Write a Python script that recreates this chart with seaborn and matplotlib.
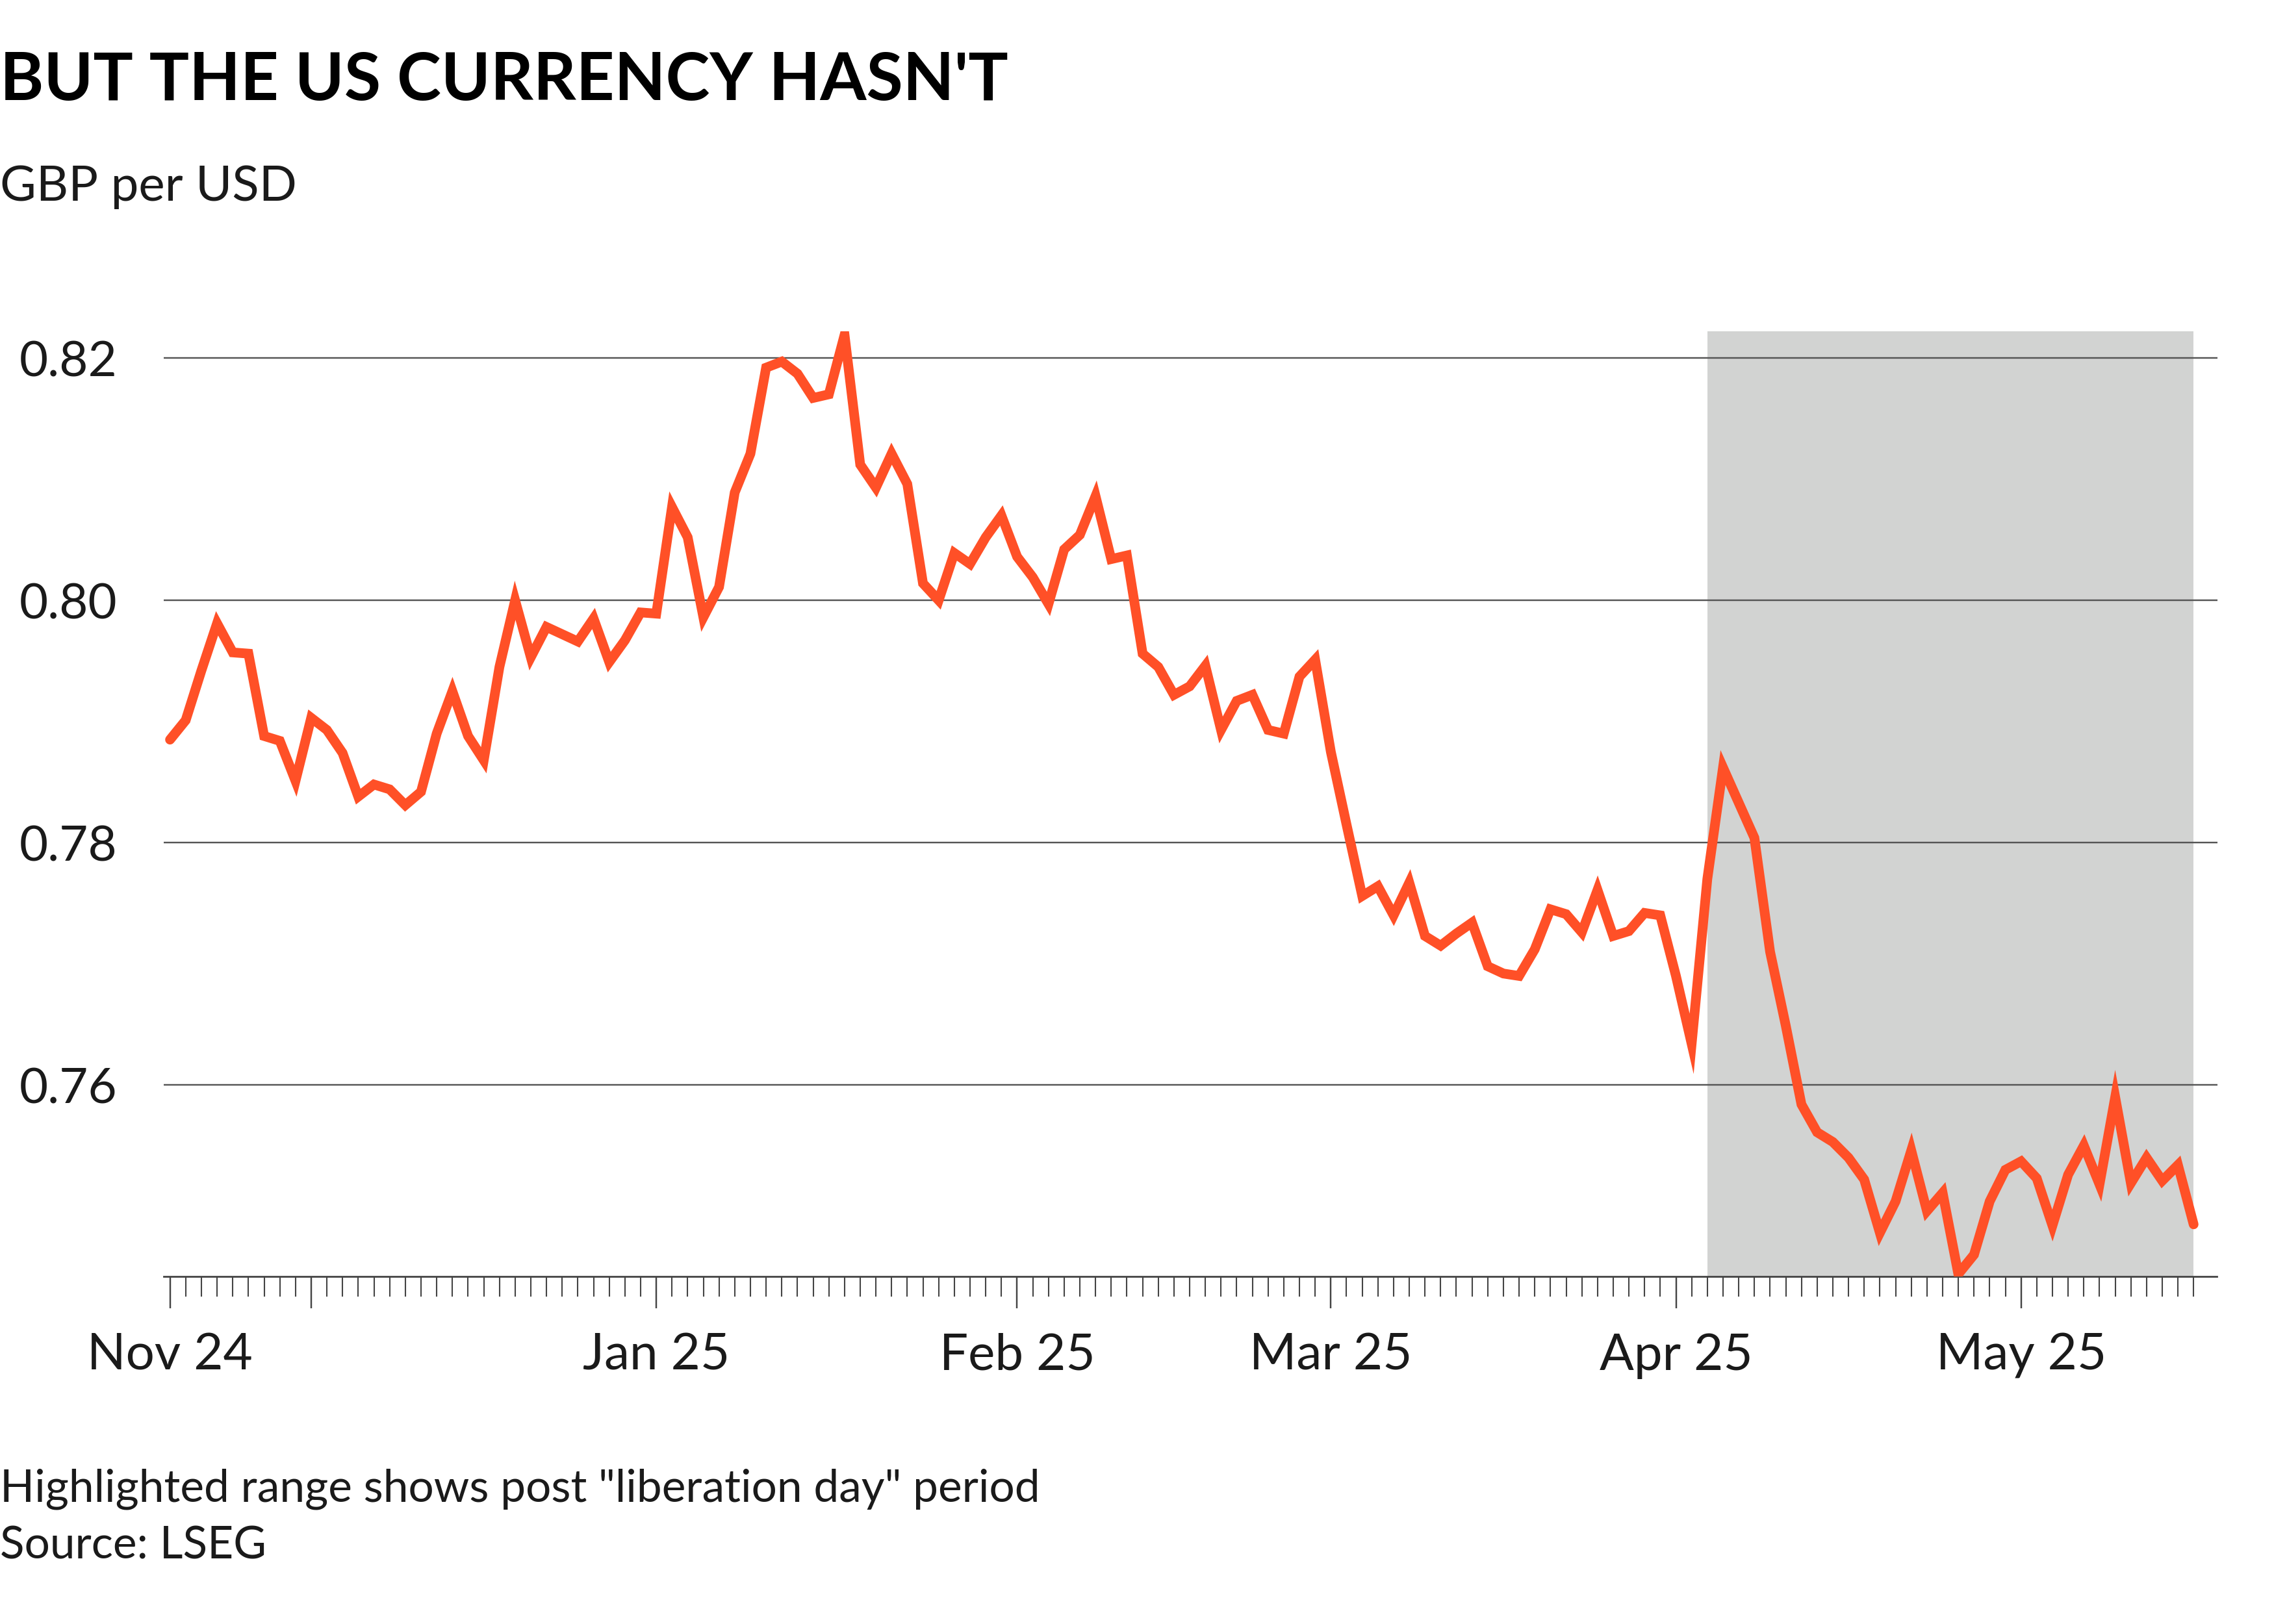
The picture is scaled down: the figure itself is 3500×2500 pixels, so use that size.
import numpy as np
import pandas as pd
import matplotlib
matplotlib.use("Agg")
import matplotlib.pyplot as plt
import seaborn as sns

# GBP per USD, one value per trading day
rate = [
    0.7885, 0.7901, 0.7942, 0.7981, 0.7957, 0.7956, 0.7888, 0.7884, 0.7851, 0.7903,
    0.7893, 0.7874, 0.7838, 0.7848, 0.7844, 0.7831, 0.7842, 0.7890, 0.7925, 0.7888,
    0.7868, 0.7945, 0.8000, 0.7953, 0.7978, 0.7972, 0.7966, 0.7985, 0.7949, 0.7967,
    0.7990, 0.7989, 0.8077, 0.8052, 0.7986, 0.8011, 0.8089, 0.8121, 0.8192, 0.8197,
    0.8187, 0.8167, 0.8170, 0.8219, 0.8112, 0.8093, 0.8121, 0.8096, 0.8014, 0.8000,
    0.8039, 0.8030, 0.8052, 0.8070, 0.8036, 0.8019, 0.7997, 0.8042, 0.8054, 0.8086,
    0.8034, 0.8037, 0.7956, 0.7945, 0.7922, 0.7929, 0.7946, 0.7893, 0.7917, 0.7922,
    0.7893, 0.7890, 0.7937, 0.7951, 0.7875, 0.7815, 0.7756, 0.7764, 0.7740, 0.7767,
    0.7723, 0.7715, 0.7725, 0.7734, 0.7698, 0.7692, 0.7690, 0.7712, 0.7745, 0.7741,
    0.7726, 0.7761, 0.7723, 0.7727, 0.7742, 0.7740, 0.7690, 0.7634, 0.7770, 0.7862,
    0.7833, 0.7804, 0.7710, 0.7649, 0.7584, 0.7561, 0.7553, 0.7540, 0.7522, 0.7478,
    0.7504, 0.7546, 0.7496, 0.7511, 0.7444, 0.7460, 0.7504, 0.7530, 0.7537, 0.7523,
    0.7484, 0.7526, 0.7550, 0.7518, 0.7590, 0.7519, 0.7540, 0.7521, 0.7534, 0.7485,
]
day = list(range(len(rate)))

# month starts (trading-day index) and their labels; Dec is unlabelled
month_pos = [0, 9, 31, 54, 74, 96, 118]
month_lab = ["Nov 24", "", "Jan 25", "Feb 25", "Mar 25", "Apr 25", "May 25"]

y_ticks = [0.76, 0.78, 0.80, 0.82]
shade_start, shade_end = 98, 129

df = pd.DataFrame({"day": day, "rate": rate})

sns.set_theme(style="white")
plt.rcParams["font.family"] = ["Lato", "DejaVu Sans"]

fig = plt.figure(figsize=(14, 10), dpi=250)
ax = fig.add_axes([0.072, 0.214, 0.903, 0.582])

ax.axvspan(shade_start, shade_end, ymin=0, ymax=1, color="#d2d3d2", lw=0, zorder=0)
for v in y_ticks:
    ax.axhline(v, color="#555555", lw=0.7, zorder=1)

sns.lineplot(data=df, x="day", y="rate", color="#ff5027", lw=4.3,
             ax=ax, zorder=3, solid_joinstyle="miter")

ax.set_xlim(-0.4, 130.5)
ax.set_ylim(0.7442, 0.8222)
ax.set_xlabel("")
ax.set_ylabel("")

ax.set_yticks(y_ticks)
ax.set_yticklabels([f"{v:.2f}" for v in y_ticks], fontsize=22, color="#1a1a1a")
for lab in ax.get_yticklabels():
    lab.set_horizontalalignment("left")
ax.tick_params(axis="y", length=0, pad=64)

ax.set_xticks(day, minor=True)
ax.set_xticks(month_pos)
ax.set_xticklabels(month_lab, fontsize=22.5, color="#1a1a1a")
ax.tick_params(axis="x", which="minor", direction="out", length=9, width=0.6,
               color="#444444", bottom=True)
ax.tick_params(axis="x", which="major", direction="out", length=14, width=0.7,
               color="#444444", pad=11, bottom=True)

for s in ["top", "right", "left"]:
    ax.spines[s].set_visible(False)
ax.spines["bottom"].set_color("#444444")
ax.spines["bottom"].set_linewidth(0.8)

fig.text(0.0, 0.95, "BUT THE US CURRENCY HASN'T", fontsize=29.5, fontweight="bold",
         color="#000000", va="center")
fig.text(0.0, 0.885, "GBP per USD", fontsize=22, color="#1a1a1a", va="center")
fig.text(0.0, 0.083, 'Highlighted range shows post "liberation day" period',
         fontsize=20, color="#1a1a1a", va="center")
fig.text(0.0, 0.048, "Source: LSEG", fontsize=20, color="#1a1a1a", va="center")

fig.savefig("out.png", dpi=250, facecolor="white")
